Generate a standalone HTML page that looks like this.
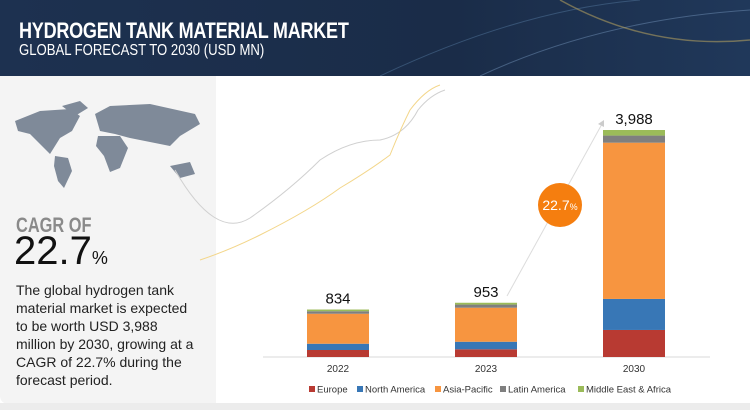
<!DOCTYPE html>
<html><head><meta charset="utf-8"><style>
body{margin:0;width:750px;height:410px;overflow:hidden;background:#fff;font-family:"Liberation Sans",sans-serif;position:relative}
#hdr{position:absolute;left:0;top:0;width:750px;height:76px;background:linear-gradient(90deg,#1d3150,#1a2c48 60%,#20385a);overflow:hidden}
.t1{position:absolute;left:19px;top:18px;color:#fff;font-size:22px;font-weight:bold;transform:scaleX(0.82);transform-origin:left;letter-spacing:-0.3px}
.t2{position:absolute;left:19px;top:42px;color:#fff;font-size:16px;transform:scaleX(0.82);transform-origin:left}
#left{position:absolute;left:0;top:76px;width:216px;height:328px;background:#f4f4f4;border-bottom-left-radius:8px}
#bot{position:absolute;left:0;top:403px;width:750px;height:7px;background:#ececec}
</style></head><body>
<div id="hdr">
<svg width="750" height="76" style="position:absolute;left:0;top:0">
<path d="M380 76 Q520 10 640 0" stroke="#4a6a90" stroke-width="1" fill="none" opacity=".6"/>
<path d="M480 76 Q600 20 750 10" stroke="#6f8fb5" stroke-width="1" fill="none" opacity=".5"/>
<path d="M560 0 Q650 50 750 40" stroke="#c9b060" stroke-width="1.5" fill="none" opacity=".5"/>
</svg>
<div class="t1">HYDROGEN TANK MATERIAL MARKET</div>
<div class="t2">GLOBAL FORECAST TO 2030 (USD MN)</div>
</div>
<div id="left">
<svg width="216" height="120" style="position:absolute;left:0;top:0">
<g fill="#7f8a99">
<path d="M15 45 L40 35 L70 33 L80 40 L72 55 L60 62 L50 78 L42 70 L30 58 L18 55Z"/>
<path d="M62 30 L80 25 L88 32 L75 40Z"/>
<path d="M55 80 L68 82 L72 95 L64 112 L58 105 L54 90Z"/>
<path d="M95 38 L110 30 L150 28 L195 38 L200 48 L180 60 L170 70 L150 66 L130 62 L115 58 L100 55Z"/>
<path d="M98 60 L120 60 L128 72 L120 92 L110 96 L104 80 L96 70Z"/>
<path d="M170 90 L190 86 L195 98 L180 102Z"/>
</g></svg>
<div style="position:absolute;left:16px;top:138px;font-size:21px;font-weight:bold;color:#8a8a8a;transform:scaleX(0.78);transform-origin:left">CAGR OF</div>
<div style="position:absolute;left:14px;top:153px;font-size:40px;color:#111">22.7<span style="font-size:18px">%</span></div>
<div style="position:absolute;left:16px;top:205px;white-space:nowrap;font-size:14px;line-height:18px;color:#222">The global hydrogen tank<br>material market is expected<br>to be worth USD 3,988<br>million by 2030, growing at a<br>CAGR of 22.7% during the<br>forecast period.</div>
</div>
<div id="bot"></div>
<svg id="chart" width="750" height="410" style="position:absolute;left:0;top:0">
<path d="M175 170 Q215 240 250 218 Q290 190 320 160 Q350 140 380 140 Q405 135 418 110 Q430 95 445 90" stroke="#d0d0d0" fill="none"/>
<path d="M200 260 Q230 250 260 235 Q310 210 340 188 Q370 170 390 155 Q400 130 410 110 Q425 90 440 85" stroke="#f3d68a" fill="none"/>
<g id="bars"></g>
<line x1="507" y1="296" x2="602" y2="124" stroke="#dcdcdc" stroke-width="1"/>
<polygon points="604,120 598,124 604,127" fill="#ccc"/>
<circle cx="560" cy="205" r="22" fill="#f57e0f"/>
<text x="560" y="210" text-anchor="middle" fill="#fff" font-size="14">22.7<tspan font-size="9">%</tspan></text>
</svg>
<script>
const categories=["2022","2023","2030"];
const totals=["834","953","3,988"];
const seriesNames=["Europe","North America","Asia-Pacific","Latin America","Middle East & Africa"];
const europe=[123,135,475];
const northAmerica=[110,133,545];
const asiaPacific=[527,598,2745];
const latinAmerica=[44,55,125];
const mea=[30,32,98];
const colors=["#b83a32","#3877b6","#f79540","#7f7f7f","#9bbb59"];
const series=[europe,northAmerica,asiaPacific,latinAmerica,mea];
const NS="http://www.w3.org/2000/svg";
const base=357, scale=227/3988, x0=338, step=148, bw=62;
const xPos=i=>x0+i*step, yLen=v=>v*scale;
const g=document.getElementById('bars');
const ax=document.createElementNS(NS,'line');
ax.setAttribute('x1',263);ax.setAttribute('x2',710);ax.setAttribute('y1',base);ax.setAttribute('y2',base);ax.setAttribute('stroke','#d9d9d9');


g.appendChild(ax);
categories.forEach((c,i)=>{
  let y=base;
  series.forEach((s,k)=>{
    const h=yLen(s[i]);y-=h;
    const r=document.createElementNS(NS,'rect');
    r.setAttribute('x',xPos(i)-bw/2);r.setAttribute('y',y);r.setAttribute('width',bw);r.setAttribute('height',h);r.setAttribute('fill',colors[k]);
    
    
    g.appendChild(r);
  });
  const t=document.createElementNS(NS,'text');
  t.setAttribute('x',xPos(i));t.setAttribute('y',y-6);t.setAttribute('text-anchor','middle');t.setAttribute('font-size','15');t.setAttribute('fill','#111');
  t.textContent=totals[i];
  
  
  g.appendChild(t);
  const l=document.createElementNS(NS,'text');
  l.setAttribute('x',xPos(i));l.setAttribute('y',372);l.setAttribute('text-anchor','middle');l.setAttribute('font-size','10');l.setAttribute('fill','#333');
  l.textContent=c;
  
  
  g.appendChild(l);
});
const lx=[309,357,435,500,578];
seriesNames.forEach((n,k)=>{
  const r=document.createElementNS(NS,'rect');
  r.setAttribute('x',lx[k]);r.setAttribute('y',386);r.setAttribute('width',6);r.setAttribute('height',6);r.setAttribute('fill',colors[k]);
  
  
  g.appendChild(r);
  const t=document.createElementNS(NS,'text');
  t.setAttribute('x',lx[k]+8);t.setAttribute('y',392.5);t.setAttribute('font-size','9.5');t.setAttribute('fill','#333');
  t.textContent=n;
  
  
  g.appendChild(t);
});
</script>
</body></html>
